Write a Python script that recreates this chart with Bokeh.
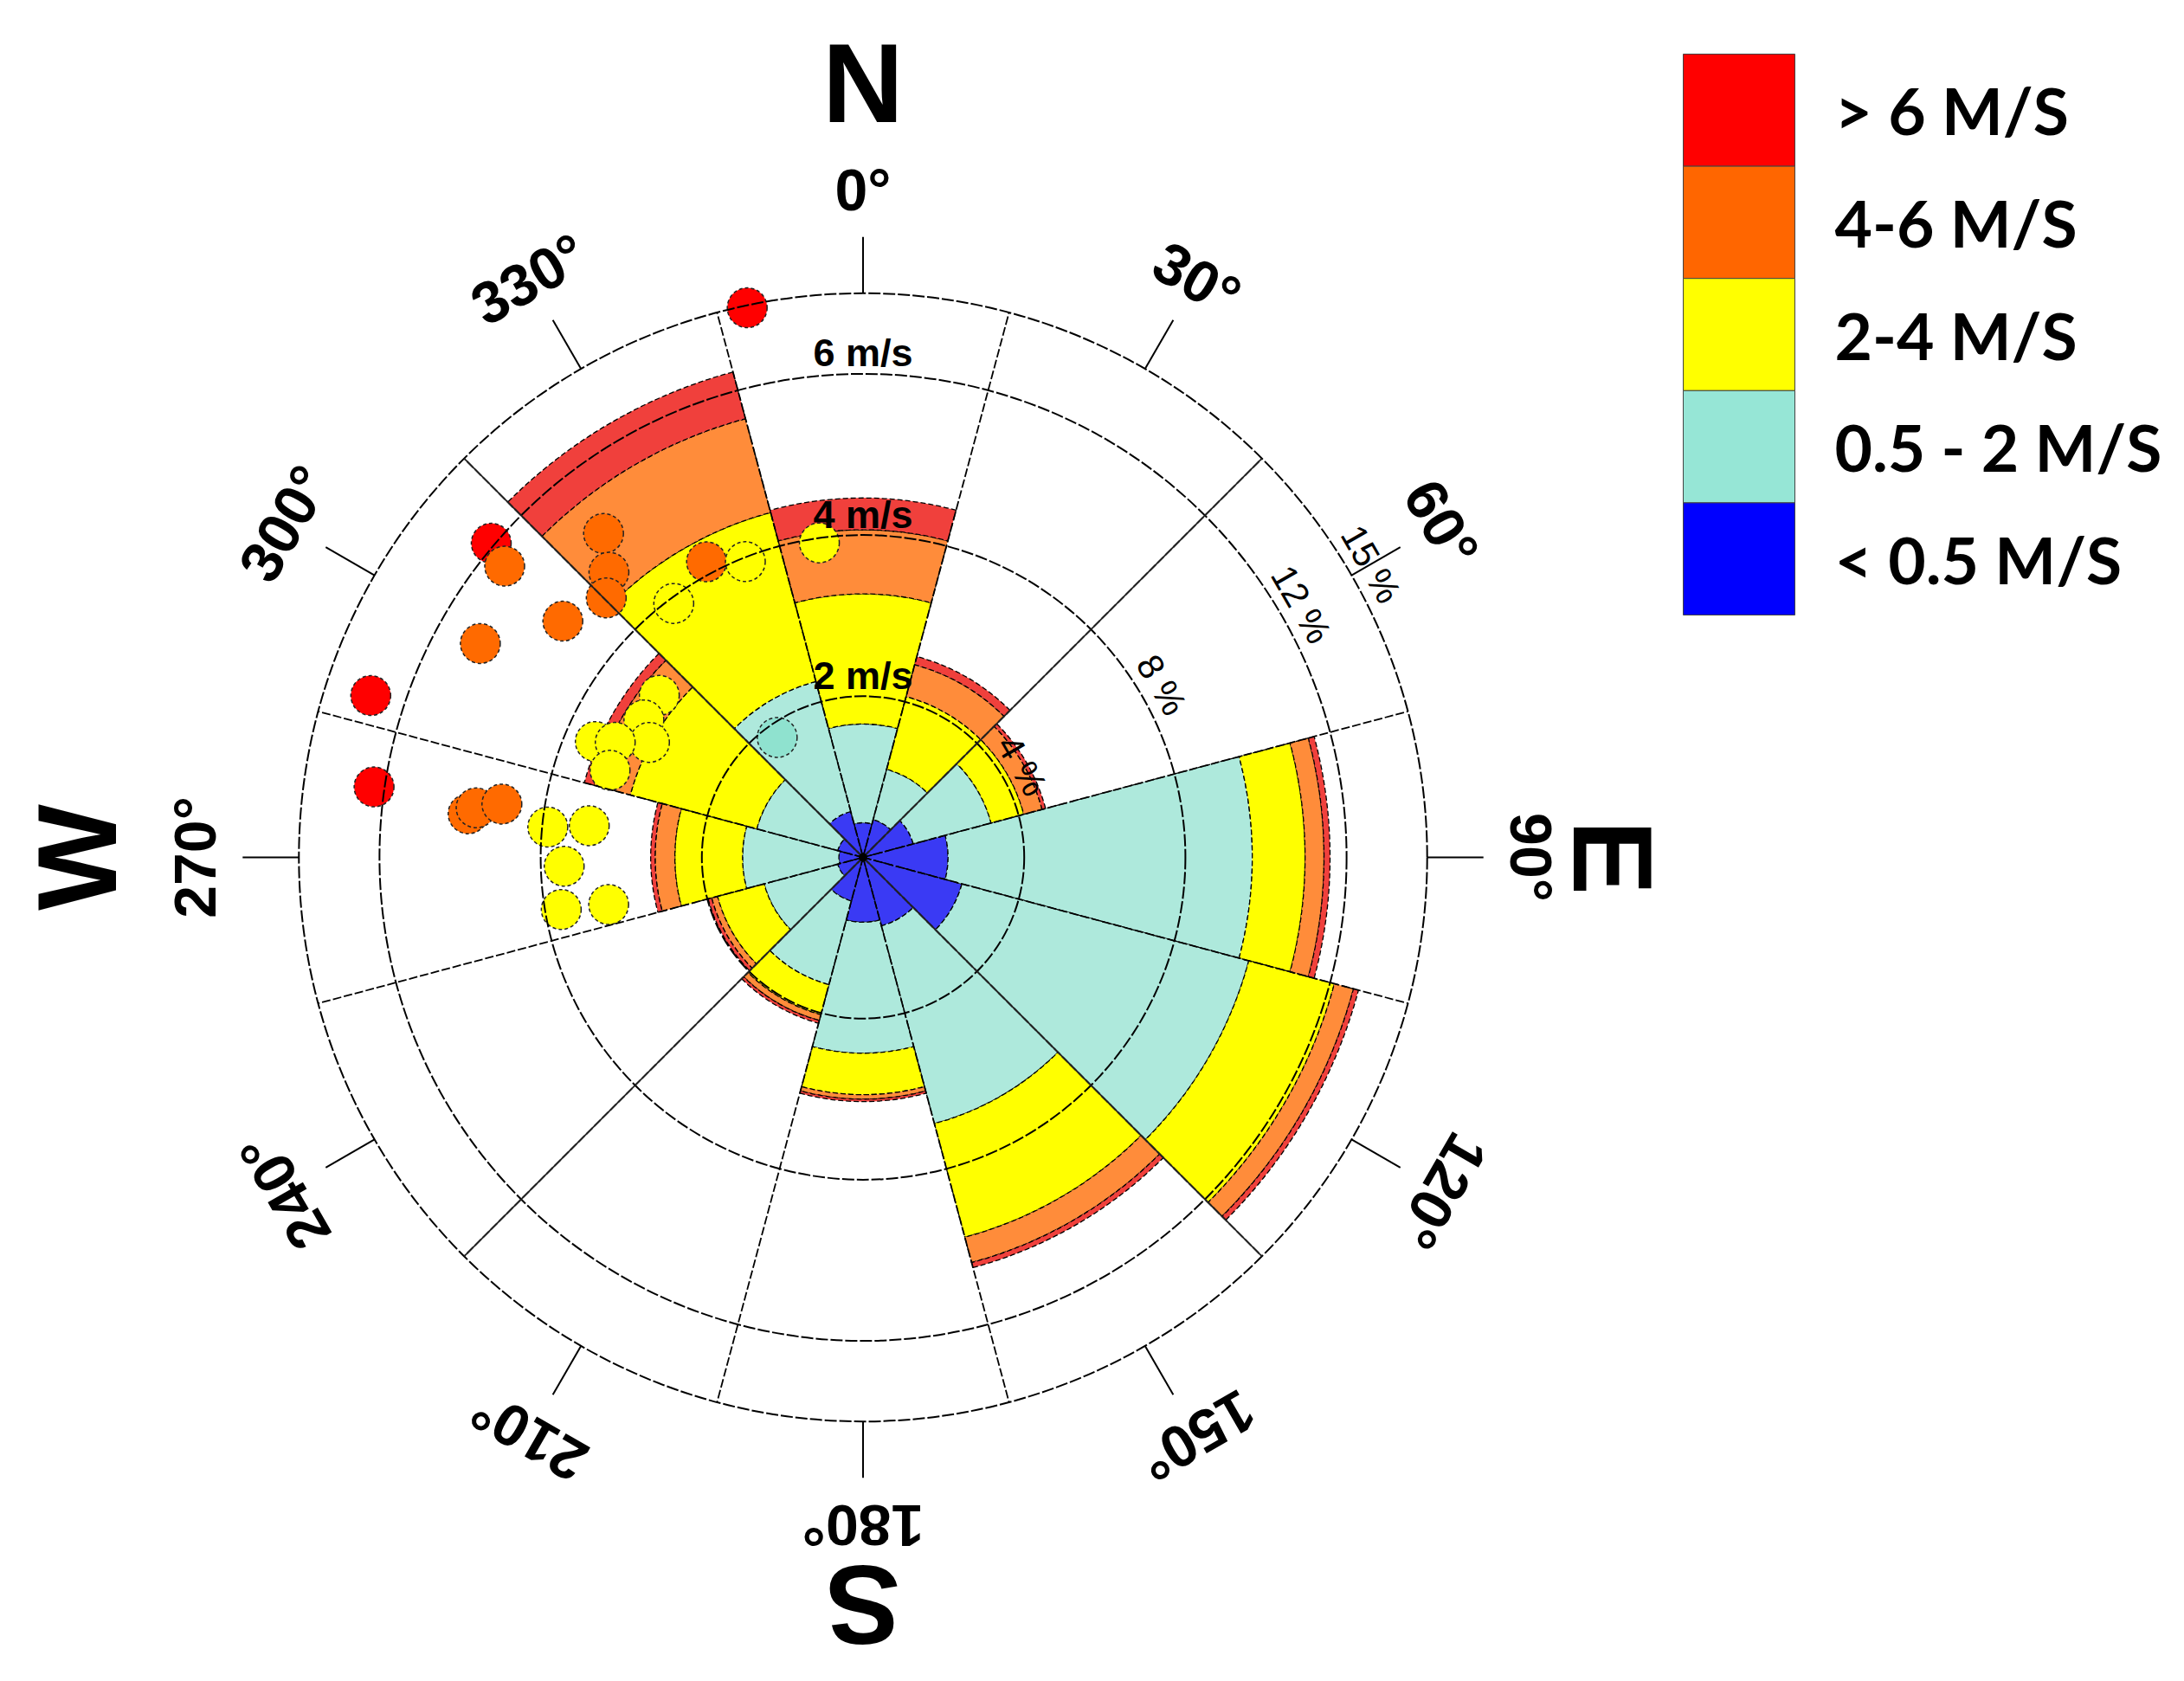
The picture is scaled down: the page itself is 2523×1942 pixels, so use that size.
import math
from bokeh.plotting import figure
from bokeh.models import ColumnDataSource
from bokeh.core.properties import value
from bokeh.embed import file_html
from bokeh.resources import INLINE

# ---------------- data ----------------
directions = [0, 30, 60, 90, 120, 150, 180, 210, 240, 270, 300, 330]
class_labels = ["< 0.5 M/S", "0.5 - 2 M/S", "2-4 M/S", "4-6 M/S", "> 6 M/S"]
# frequency (%) of each speed class per direction sector
freq_lt05 = [0.86, 0.97, 1.29, 2.11, 2.54, 1.76, 1.61, 1.12, 0.65, 0.60, 0.65, 1.18]
freq_05_2 = [2.45, 1.29, 2.00, 7.55, 7.37, 5.08, 3.25, 2.15, 1.89, 2.39, 2.08, 3.34]
freq_2_4 = [3.23, 1.87, 0.84, 1.31, 2.20, 2.92, 1.03, 0.77, 1.20, 1.68, 3.25, 4.34]
freq_4_6 = [1.59, 0.82, 0.47, 0.47, 0.49, 0.65, 0.11, 0.15, 0.15, 0.49, 0.94, 2.41]
freq_gt6 = [0.79, 0.21, 0.09, 0.15, 0.13, 0.13, 0.06, 0.07, 0.09, 0.11, 0.24, 1.20]

# individual observations: direction (deg) and speed (m/s)
obs_dir = [310.2, 288.2, 278.2, 348.1, 309.1, 299.2, 308.2, 321.3, 318.3, 315.3,
           332.1, 276.3, 277.3, 278.4, 352.1, 338.3, 323.3, 308.5, 302.1, 298.3,
           293.4, 294.9, 289.0, 275.5, 276.6, 268.3, 260.2, 259.5, 324.4]
obs_speed = [6.04, 6.43, 6.13, 6.97, 5.73, 5.44, 4.74, 5.15, 4.74, 4.53,
             4.15, 4.93, 4.84, 4.53, 3.94, 3.95, 3.93, 3.23, 3.21, 3.01,
             3.62, 3.39, 3.32, 3.93, 3.42, 3.71, 3.80, 3.21, 1.83]
speed_bounds = [0.5, 2, 4, 6]

pct_rings = [4, 8, 12, 14]
pct_labels = ["4 %", "8 %", "12 %", "15 %"]
speed_rings = [2, 4, 6]
speed_labels = ["2 m/s", "4 m/s", "6 m/s"]
deg_ticks = list(range(0, 360, 30))
deg_labels = [f"{d}°" for d in deg_ticks]
compass_dirs = [0, 90, 180, 270]
compass_labels = ["N", "E", "S", "W"]

# ---------------- layout / style ----------------
W, H = 2507, 1926
S = 46.55            # px per percent unit
CX, CY = 996.5, 990  # image pixel position of the rose centre
ORIGIN = 0           # image pixel of the figure's top-left corner
PCT_PER_MS = 2.0     # speed rings share the percentage rings
SECTOR = 30.0

bar_colors = ["#3a3af4", "#aee9dc", "#ffff00", "#ff8c3a", "#f0403c"]
pt_colors = ["#3a3af4", "#8fe2cf", "#ffff00", "#ff6a00", "#ff0000"]
legend_colors = ["#0000ff", "#96e6d6", "#ffff00", "#ff6600", "#ff0000"]

def X(px):
    return (px - CX) / S

def Y(py):
    return (CY - py) / S

def polar(r, deg):
    a = math.radians(deg)
    return r * math.sin(a), r * math.cos(a)

p = figure(width=W, height=H, x_range=(X(ORIGIN), X(ORIGIN + W)),
           y_range=(Y(ORIGIN + H), Y(ORIGIN)),
           output_backend="svg", toolbar_location=None, min_border=0)
p.axis.visible = False
p.grid.visible = False
p.outline_line_color = None
p.background_fill_color = "white"

# ---------------- stacked sector bars ----------------
classes = [freq_lt05, freq_05_2, freq_2_4, freq_4_6, freq_gt6]
cum = [0.0] * len(directions)
for vals, col in zip(classes, bar_colors):
    inner = list(cum)
    outer = [c + v for c, v in zip(cum, vals)]
    src = ColumnDataSource(dict(
        inner=inner, outer=outer,
        start=[math.radians(90 - d - SECTOR / 2) for d in directions],
        end=[math.radians(90 - d + SECTOR / 2) for d in directions]))
    p.annular_wedge(x=0, y=0, inner_radius="inner", outer_radius="outer",
                    start_angle="start", end_angle="end", direction="anticlock",
                    source=src, fill_color=col, line_color="black",
                    line_width=1.3, line_dash="6 3")
    cum = outer

# ---------------- observation points ----------------
def speed_class(v):
    k = 0
    for b in speed_bounds:
        if v > b:
            k += 1
    return k

ox, oy, oc = [], [], []
for d, v in zip(obs_dir, obs_speed):
    x, y = polar(v * PCT_PER_MS, d)
    ox.append(x); oy.append(y); oc.append(pt_colors[speed_class(v)])
p.scatter(x=ox, y=oy, size=46, fill_color=oc, line_color="#222222",
          line_width=1.5, line_dash="4 3")

# ---------------- grid ----------------
p.circle(x=[0] * len(pct_rings), y=[0] * len(pct_rings), radius=pct_rings,
         fill_color=None, line_color="black", line_width=2, line_dash="14 3")
rmax = pct_rings[-1]
for k in range(12):
    a = 15 + 30 * k
    x1, y1 = polar(rmax, a)
    p.segment(x0=[0], y0=[0], x1=[x1], y1=[y1], line_color="black",
              line_width=1.8, line_dash="10 3")
for a in [45, 135, 225, 315]:
    x1, y1 = polar(rmax, a)
    p.segment(x0=[0], y0=[0], x1=[x1], y1=[y1], line_color="#222222", line_width=1.8)
tick_out = rmax + 65 / S
tx0, ty0, tx1, ty1 = [], [], [], []
for d in deg_ticks:
    a0 = polar(rmax, d); a1 = polar(tick_out, d)
    tx0.append(a0[0]); ty0.append(a0[1]); tx1.append(a1[0]); ty1.append(a1[1])
p.segment(x0=tx0, y0=ty0, x1=tx1, y1=ty1, line_color="black", line_width=2)
p.scatter(x=[0], y=[0], size=9, color="black")

# ---------------- labels ----------------
r_deg = 772 / S
dx_, dy_ = zip(*[polar(r_deg, d) for d in deg_ticks])
p.text(x=list(dx_), y=list(dy_), text=deg_labels,
       angle=[math.radians(-d) for d in deg_ticks],
       text_font=value("Liberation Sans"), text_font_style="bold",
       text_font_size="68px", text_align="center", text_baseline="middle",
       text_color="black")

r_comp = [895 / S, 866 / S, 863 / S, 908 / S]
cx_, cy_ = zip(*[polar(r, d) for r, d in zip(r_comp, compass_dirs)])
p.text(x=list(cx_), y=list(cy_), text=compass_labels,
       angle=[math.radians(-d) for d in compass_dirs],
       text_font=value("Liberation Sans"), text_font_style="bold",
       text_font_size="130px", text_align="center", text_baseline="middle",
       text_color="black")

p.text(x=[0] * len(speed_rings),
       y=[v * PCT_PER_MS + 24 / S for v in speed_rings], text=speed_labels,
       text_font=value("Liberation Sans"), text_font_style="bold",
       text_font_size="45px", text_align="center", text_baseline="middle",
       text_color="black")

lab_dir = 60
px_, py_ = zip(*[polar(r + 26 / S, lab_dir) for r in pct_rings])
p.text(x=list(px_), y=list(py_), text=pct_labels, angle=math.radians(-lab_dir),
       text_font=value("Liberation Sans"), text_font_size="42px",
       text_align="center", text_baseline="middle", text_color="black")

# ---------------- legend (stacked colour boxes) ----------------
LX0, LX1, LY0, LY1 = 1944, 2073, 62, 710
n = len(class_labels)
hbox = (LY1 - LY0) / n
order = list(range(n))[::-1]  # top box = highest class
qt, qb, lab_y, qcol, qlab = [], [], [], [], []
for i, k in enumerate(order):
    top = LY0 + i * hbox
    qt.append(Y(top)); qb.append(Y(top + hbox))
    lab_y.append(Y(top + hbox / 2))
    qcol.append(legend_colors[k]); qlab.append(class_labels[k])
p.quad(left=X(LX0), right=X(LX1), top=qt, bottom=qb, fill_color=qcol,
       line_color="#444444", line_width=1)
p.text(x=[X(2119)] * n, y=lab_y, text=qlab,
       text_font=value("Lato"), text_font_style="bold",
       text_font_size="75px", text_align="left", text_baseline="middle",
       text_color="black")

open("out.html", "w").write(file_html(p, INLINE))
